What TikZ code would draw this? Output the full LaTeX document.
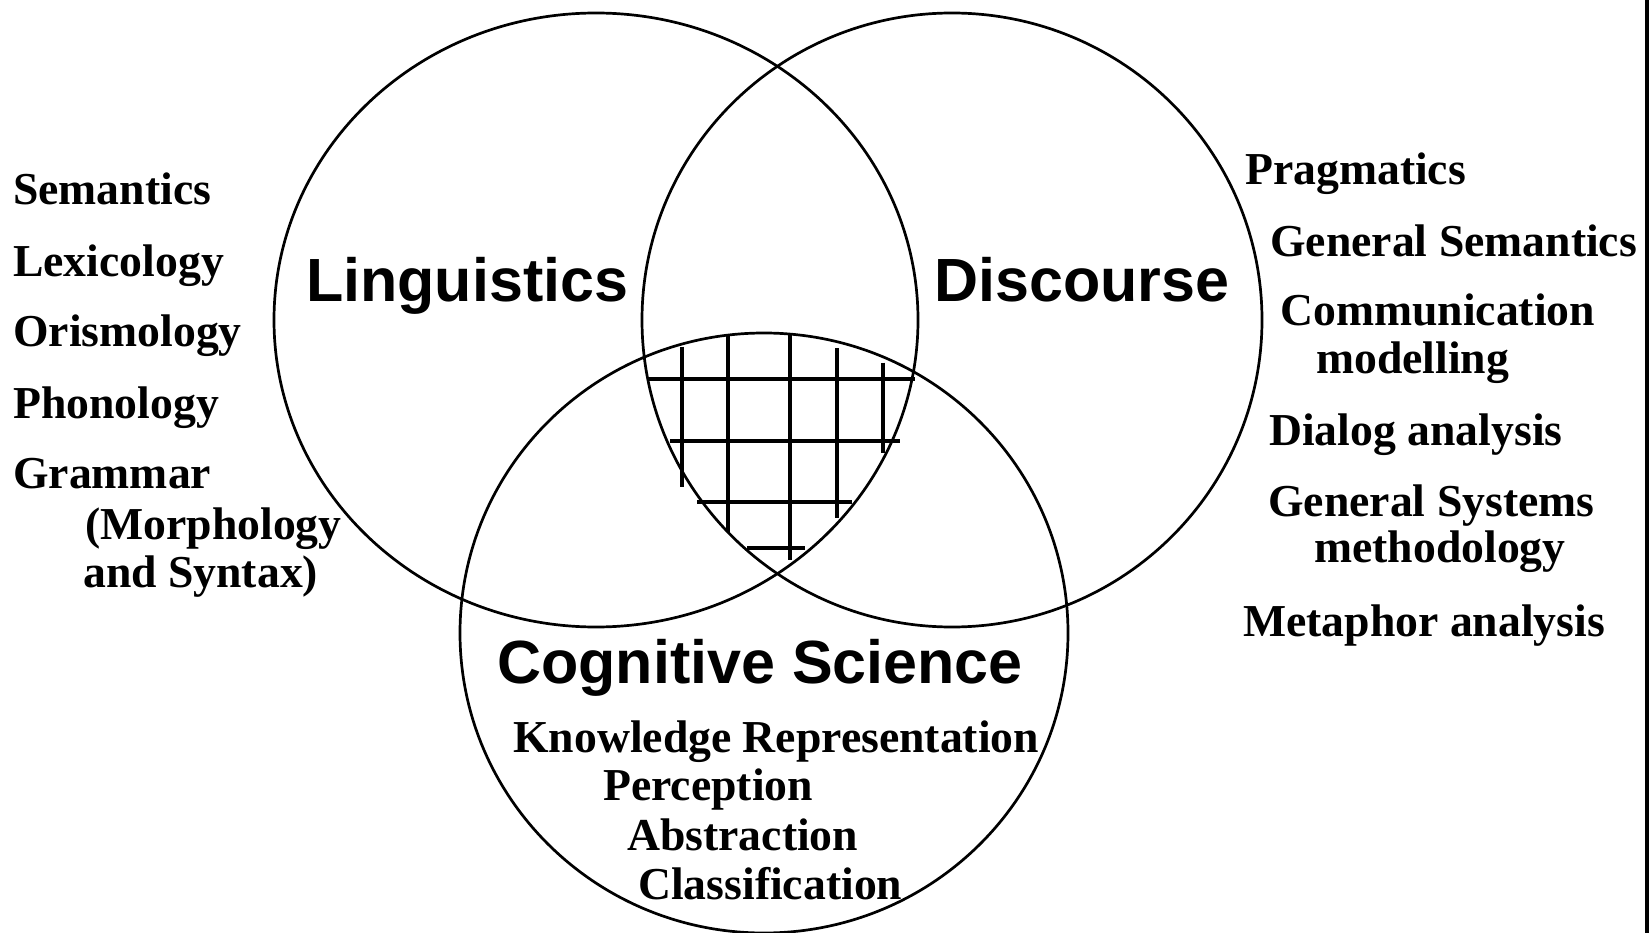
\documentclass[tikz,border=0pt]{standalone}
\usepackage{fontspec}
\setmainfont{Liberation Serif}
\newfontfamily\headfont{Liberation Sans}
\tikzset{
  item/.style={anchor=base west, inner sep=0pt, font=\fontsize{45.7}{50}\selectfont\bfseries},
  head/.style={anchor=base west, inner sep=0pt, font=\headfont\fontsize{61}{66}\selectfont\bfseries},
  ring/.style={line width=2.7pt},
  hatch/.style={line width=4pt},
  frame/.style={line width=4pt}
}
\begin{document}
\begin{tikzpicture}[x=1pt,y=-1pt]
\useasboundingbox (0,0) rectangle (1652,933);
% circles
\draw[ring] (596,320) ellipse [x radius=322pt, y radius=307pt];
\draw[ring] (952,320) ellipse [x radius=310pt, y radius=307pt];
\draw[ring] (764,633) ellipse [x radius=304pt, y radius=300pt];
% right border line
\draw[frame] (1647,0) -- (1647,933);
% hatching of the common area
\draw[hatch] (681.7,346.7) -- (681.7,486.7);
\draw[hatch] (728.3,334) -- (728.3,531.7);
\draw[hatch] (790,334) -- (790,560);
\draw[hatch] (836.7,348.3) -- (836.7,518.3);
\draw[hatch] (883.3,362.7) -- (883.3,453.3);
\draw[hatch] (648,379.3) -- (915,379.3);
\draw[hatch] (670,440.7) -- (900,440.7);
\draw[hatch] (697,501.7) -- (852,501.7);
\draw[hatch] (747,548.3) -- (805,548.3);
% headings
\node[head] (ling) at (306,302) {Linguistics};
\node[head] (disc) at (934,302) {Discourse};
\node[head] (cogs) at (497,683) {Cognitive Science};
% left column
\node[item] (sem) at (13,205) {Semantics};
\node[item] (lex) at (13,277) {Lexicology};
\node[item] (oris) at (13,347) {Orismology};
\node[item] (phon) at (13,418) {Phonology};
\node[item] (gram) at (13,488) {Grammar};
\node[item] (morph) at (85,539) {(Morphology};
\node[item] (synt) at (83,587) {and Syntax)};
% right column
\node[item] (prag) at (1245,185) {Pragmatics};
\node[item] (gsem) at (1270,257) {General Semantics};
\node[item] (comm) at (1280,326) {Communication};
\node[item] (mod) at (1316,373) {modelling};
\node[item] (dial) at (1269,445) {Dialog analysis};
\node[item] (gsys) at (1268,516) {General Systems};
\node[item] (meth) at (1314,562) {methodology};
\node[item] (meta) at (1243,636) {Metaphor analysis};
% cognitive science items
\node[item] (know) at (513,752) {Knowledge Representation};
\node[item] (perc) at (603,800) {Perception};
\node[item] (abst) at (627,850) {Abstraction};
\node[item] (clas) at (638,899) {Classification};
\end{tikzpicture}
\end{document}
